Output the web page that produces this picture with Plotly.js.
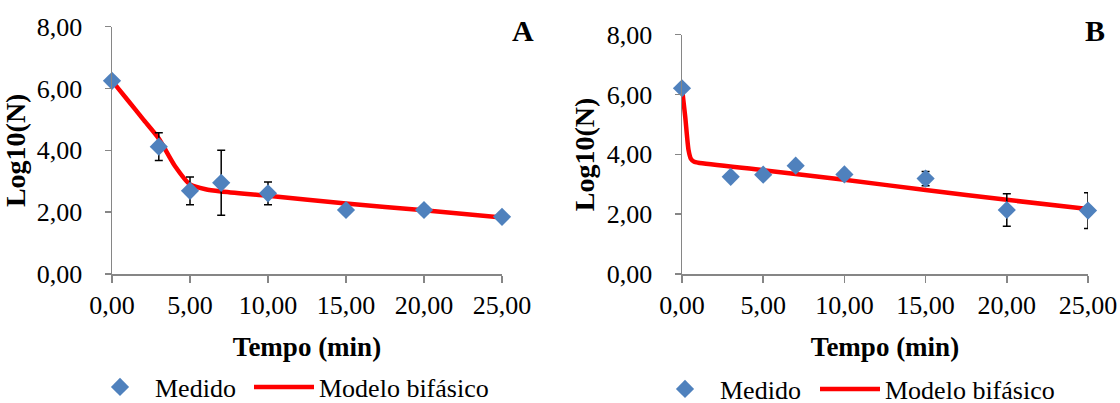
<!DOCTYPE html>
<html>
<head>
<meta charset="utf-8">
<script src="https://cdn.plot.ly/plotly-3.0.1.min.js"></script>
<style>
html,body{margin:0;padding:0;background:#fff;}
#chart{width:1120px;height:403px;}
</style>
</head>
<body>
<div id="chart"></div>
<script>
// Measured data (time in minutes)
const tempo = [0, 3, 5, 7, 10, 15, 20, 25];
const medidoA = [6.25, 4.12, 2.69, 2.95, 2.61, 2.07, 2.07, 1.85];
const erroA = [0, 0.45, 0.45, 1.05, 0.37, 0, 0, 0];
const medidoB = [6.21, 3.25, 3.32, 3.62, 3.33, 3.19, 2.14, 2.12];
const erroB = [0, 0, 0, 0, 0, 0.24, 0.54, 0.60];

// Biphasic model curves
const tempoModeloA = [0, 1, 2, 3, 4, 5, 6, 7, 10, 15, 20, 25];
const modeloA = [6.25, 5.63, 5.00, 4.38, 3.52, 2.90, 2.74, 2.67, 2.53, 2.28, 2.06, 1.83];
const tempoModeloB = [0, 0.2, 0.4, 0.55, 0.75, 1, 5, 10, 15, 20, 25];
const modeloB = [6.21, 5.25, 4.15, 3.85, 3.75, 3.72, 3.47, 3.15, 2.81, 2.48, 2.17];

const xTicks = [0, 5, 10, 15, 20, 25];
const yTicks = [0, 2, 4, 6, 8];
const fmt = v => v.toFixed(2).replace('.', ',');

const SERIF = 'Liberation Serif';
const blue = '#4F81BD';
const red = '#FF0000';
const axisGrey = '#868686';

function medTrace(y, err, xa, ya, lg) {
  return {
    x: tempo, y: y, xaxis: xa, yaxis: ya, legend: lg,
    type: 'scatter', mode: 'markers', name: 'Medido',
    marker: {symbol: 'diamond', size: 14, color: blue},
    error_y: {type: 'data', array: err, visible: true, color: '#000', thickness: 1.5, width: 4},
    cliponaxis: false
  };
}
function modTrace(x, y, xa, ya, lg) {
  return {
    x: x, y: y, xaxis: xa, yaxis: ya, legend: lg,
    type: 'scatter', mode: 'lines', name: 'Modelo bifásico',
    line: {color: red, width: 4.5, shape: 'spline', smoothing: 0.6},
    cliponaxis: false
  };
}

const data = [
  modTrace(tempoModeloA, modeloA, 'x', 'y', 'legend3'),
  medTrace(medidoA, erroA, 'x', 'y', 'legend'),
  modTrace(tempoModeloB, modeloB, 'x2', 'y2', 'legend4'),
  medTrace(medidoB, erroB, 'x2', 'y2', 'legend2')
];

function xax(domain, anchor) {
  return {
    domain: domain, anchor: anchor, range: [0, 25],
    tickvals: xTicks, ticktext: xTicks.map(fmt),
    showgrid: false, zeroline: false, showline: true,
    linecolor: axisGrey, linewidth: 1.5,
    ticks: 'outside', ticklen: 7, tickcolor: axisGrey, tickwidth: 1.5,
    ticklabelstandoff: 0,
    tickfont: {family: SERIF, size: 26, color: '#000'},
    title: {text: '<b>Tempo (min)</b>', font: {family: SERIF, size: 27, color: '#000'}, standoff: 18},
    automargin: false, fixedrange: true
  };
}
function yax(domain, anchor) {
  return {
    domain: domain, anchor: anchor, range: [0, 8],
    tickvals: yTicks, ticktext: yTicks.map(fmt),
    showgrid: false, zeroline: false, showline: true,
    linecolor: axisGrey, linewidth: 1.5,
    ticks: 'outside', ticklen: 6, tickcolor: axisGrey, tickwidth: 1.5,
    ticklabelstandoff: 17,
    tickfont: {family: SERIF, size: 26, color: '#000'},
    title: {text: '<b>Log10(N)</b>', font: {family: SERIF, size: 28, color: '#000'}, standoff: 4},
    automargin: false, fixedrange: true
  };
}

const W = 1120, H = 403;
function leg(xpx, ypx) {
  return {
    orientation: 'h', x: xpx / W, y: 1 - ypx / H, xanchor: 'left', yanchor: 'middle',
    font: {family: SERIF, size: 26, color: '#000'}, itemwidth: 60,
    bgcolor: 'rgba(0,0,0,0)', borderwidth: 0
  };
}
const layout = {
  width: W, height: H,
  margin: {l: 0, r: 0, t: 0, b: 0, autoexpand: false},
  paper_bgcolor: '#fff', plot_bgcolor: '#fff',
  font: {family: SERIF, color: '#000'},
  showlegend: true,
  xaxis: xax([112 / W, 502 / W], 'y'),
  yaxis: yax([1 - 274 / H, 1 - 26.7 / H], 'x'),
  xaxis2: xax([682 / W, 1088 / W], 'y2'),
  yaxis2: yax([1 - 274 / H, 1 - 34.7 / H], 'x2'),
  legend: leg(85, 387),
  legend3: leg(249, 387),
  legend2: leg(650, 389),
  legend4: leg(815, 389),
  annotations: [
    {text: '<b>A</b>', xref: 'paper', yref: 'paper', x: 523 / W, y: 1 - 30 / H,
     xanchor: 'center', yanchor: 'middle', showarrow: false,
     font: {family: SERIF, size: 30, color: '#000'}},
    {text: '<b>B</b>', xref: 'paper', yref: 'paper', x: 1095 / W, y: 1 - 30 / H,
     xanchor: 'center', yanchor: 'middle', showarrow: false,
     font: {family: SERIF, size: 30, color: '#000'}}
  ]
};

Plotly.newPlot('chart', data, layout, {displayModeBar: false, staticPlot: true});
</script>
</body>
</html>
